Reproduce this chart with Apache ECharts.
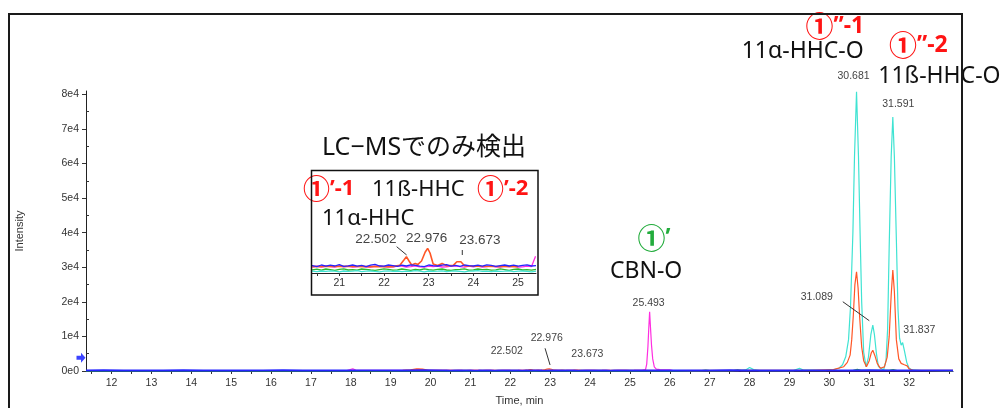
<!DOCTYPE html>
<html>
<head>
<meta charset="utf-8">
<script src="https://cdn.jsdelivr.net/npm/echarts@6/dist/echarts.min.js"></script>
<style>
  html, body { margin: 0; padding: 0; background: #fff; }
  #chart { width: 1005px; height: 408px; }
</style>
</head>
<body>
<div id="chart"></div>
<script>
// Extracted ion chromatograms: retention time (min) vs intensity (counts)

// axis ranges and tick labels
const XMIN = 11.36, XMAX = 33.1;
const INSET_XMIN = 20.39, INSET_XMAX = 25.40;
const YMAX = 81000, INSET_YMAX = 2400;
const timeTickLabels = [12,13,14,15,16,17,18,19,20,21,22,23,24,25,26,27,28,29,30,31,32];
const insetTickLabels = [21,22,23,24,25];
const intensityTicks = [0,10000,20000,30000,40000,50000,60000,70000,80000];
const thresholdLevel = 3800;

// sampling grid of the detailed baseline segment (20.4 - 25.4 min, 0.1 min step)
const fineTimes = Array.from({ length: 51 }, (_, i) => Math.round((20.4 + i * 0.1) * 10) / 10);

// baseline noise on the detailed segment
const blueFine = [185,160,200,170,195,175,210,165,180,200,170,190,160,195,215,175,170,200,185,165,195,175,205,190,170,160,200,185,175,195,210,170,190,165,200,185,175,195,170,205,190,165,185,200,175,195,170,190,205,175,185];
const magentaFine = [155,170,145,175,160,150,180,155,170,145,160,175,155,150,170,180,160,145,155,175,170,150,160,180,155,145,170,160,175,150,155,170,180,160,145,175,155,170,150,160,180,155,145,170,160,175,150,155,170,160];
const greenFine = [80,95,70,100,85,65,90,105,75,85,70,100,90,75,65,85,105,90,70,80,100,85,65,90,75,105,85,70,90,100,75,65,85,90,105,70,80,100,85,90,70,80,105,85,65,90,100,75,85,70,90];
const cyanFine = [45,35,50,40,55,45,30,50,40,45,60,35,45,50,40,30,45,55,40,50,35,45,40,60,45,30,50,40,45,55,35,45,50,40,30,45,50,60,40,45,35,50,40,45,55,35,45,50,40,30,45];

// [time, intensity] points of each trace outside the detailed segment
const bluePoints = [[11.36,200],[11.8,260],[12.3,180],[12.8,220],[13.3,170],[13.8,240],[14.3,190],[14.8,230],[15.3,180],[15.8,210],[16.3,250],[16.8,190],[17.3,220],[17.8,170],[18.3,230],[18.8,200],[19.3,180],[19.8,240],[20.3,200],
  [25.5,190],[26.0,230],[26.5,180],[27.0,210],[27.5,240],[28.0,190],[28.5,220],[29.0,170],[29.5,230],[30.0,200],[30.5,180],[31.0,240],[31.5,210],[32.0,190],[32.5,220],[33.1,200]];
const greenPoints = [[11.36,80],[20.3,80],[25.5,80],[26.8,100],[26.9,250],[27.0,100],[27.6,100],[27.7,300],[27.8,100],[29.9,100],[30.0,350],[30.1,150],[30.6,200],[30.7,450],[30.8,200],[31.5,200],[31.6,400],[31.7,150],[33.1,80]];
const magentaPoints = [[11.36,150],[17.9,150],[18.05,600],[18.15,160],[19.5,170],[19.7,450],[19.9,160],[20.3,160],
  [25.39,420],[25.42,2000],[25.45,7000],[25.47,12000],[25.493,17100],[25.515,12500],[25.54,7500],[25.57,3500],[25.61,1200],[25.66,550],[25.75,400],[25.9,350],[26.0,320],[26.08,150],[26.5,120],[33.1,120]];
const cyanPoints = [[11.36,50],[20.3,50],[25.5,50],[26.5,60],[27.7,80],[27.9,300],[28.0,1000],[28.1,400],[28.25,100],[29.1,100],[29.25,800],[29.35,250],[29.6,280],[29.9,220],[30.1,350],
  [30.24,800],[30.33,1800],[30.41,4100],[30.48,9000],[30.53,18600],[30.59,40000],[30.63,62000],[30.681,80800],[30.73,62000],[30.77,40000],[30.81,20000],[30.86,5500],[30.92,1200],
  [30.98,4000],[31.04,10500],[31.089,13300],[31.13,10500],[31.18,5000],[31.23,1300],[31.36,300],
  [31.42,3000],[31.46,12000],[31.5,36000],[31.55,62000],[31.591,73500],[31.63,62000],[31.68,38000],[31.72,18000],[31.76,9500],[31.8,7500],[31.837,8200],[31.88,6000],[31.94,2500],[32.0,800],[32.08,300],[32.3,150],[33.1,60]];
const orangePoints = [[11.36,150],[19.3,160],[19.5,350],[19.65,600],[19.8,550],[19.95,200],[20.4,160],[21.0,170],[21.6,160],
  [22.2,160],[22.35,190],[22.45,330],[22.502,408],[22.56,300],[22.62,200],[22.7,240],[22.76,215],[22.84,300],[22.92,520],[22.976,617],[23.03,500],[23.1,225],[23.2,190],[23.3,240],[23.4,180],[23.55,190],[23.63,280],[23.673,325],[23.72,280],[23.8,180],[24.0,170],
  [25.0,160],[26.0,150],[28.0,160],[29.5,160],[30.1,400],[30.36,1240],[30.45,2500],[30.52,4600],[30.56,9000],[30.6,16000],[30.64,25000],[30.681,28700],[30.72,24000],[30.76,15500],[30.81,7000],[30.86,3000],[30.93,1240],
  [31.0,3000],[31.05,5200],[31.089,6000],[31.14,4500],[31.2,2200],[31.28,780],[31.38,1200],[31.45,4000],[31.5,10000],[31.55,22000],[31.591,29200],[31.63,23000],[31.68,9000],[31.74,3500],[31.8,2200],[31.88,1800],[31.95,1500],[32.0,600],[32.1,200],[33.1,160]];

// labelled retention times: [trace, time]
const mainPeaks = [['orange',22.502],['orange',22.976],['orange',23.673],['magenta',25.493],['cyan',30.681],['cyan',31.089],['cyan',31.591],['cyan',31.837]];
const insetPeaks = [['orange',22.502],['orange',22.976],['orange',23.673]];

// label placement relative to the peak apex (px)
const mainLabelOffset = { '22.502': [-23.6,-18.9], '22.976': [-2.5,-30.6], '23.673': [10.3,-15.9], '25.493': [-1,-9.2],
  '30.681': [-3,-15.5], '31.089': [-56,-28.3], '31.591': [5.5,-12.5], '31.837': [16.7,-12.6] };
const insetLabelOffset = { '22.502': [-30.5,-17.7], '22.976': [-1,-10.3], '23.673': [21.2,-19.3] };
const mainLeaders = { '22.976': [-4.2,-20.6,0.8,-3.9], '31.089': [-30,-23.3,-3.5,-4.3] };
const insetLeaders = { '22.502': [-9.8,-10,0.2,-1.7], '23.673': [3.5,-10,3.5,-5] };

function mergeTrace(points, fine) {
  const fp = (fine || []).map((v, i) => [fineTimes[i], v]);
  if (!fp.length) return points.slice();
  const first = fp[0][0], last = fp[fp.length - 1][0];
  return points.filter(p => p[0] < first || p[0] > last).concat(fp).sort((a, b) => a[0] - b[0]);
}

const traces = {
  green:   { color: '#2db82d', data: mergeTrace(greenPoints, greenFine) },
  cyan:    { color: '#3fe3d2', data: mergeTrace(cyanPoints, cyanFine) },
  magenta: { color: '#ff2ee0', data: mergeTrace(magentaPoints, magentaFine) },
  orange:  { color: '#ff5626', data: mergeTrace(orangePoints, null) },
  blue:    { color: '#2424ff', data: mergeTrace(bluePoints, blueFine) }
};
const drawOrder = ['green', 'cyan', 'magenta', 'orange', 'blue'];

// the inset shows only the points inside its own time window
const inInset = d => d[0] >= INSET_XMIN - 0.2 && d[0] <= INSET_XMAX;

function apex(name, t) {
  const p = traces[name].data.find(d => Math.abs(d[0] - t) < 1e-9);
  return [t, p ? p[1] : 0];
}

function halfSteps(a, b) {
  const out = [];
  for (let v = a; v <= b + 1e-9; v += 0.5) out.push(Math.round(v * 10) / 10);
  return out;
}

const tickFont = { fontFamily: 'Liberation Sans, Arial, sans-serif', fontSize: 10.5, color: '#333' };

function markPointsFor(name, peaks, offsets, fontSize) {
  const items = peaks.filter(p => p[0] === name).map(p => {
    const c = apex(name, p[1]);
    return { name: p[1].toFixed(3), coord: c, label: { offset: offsets[p[1].toFixed(3)] } };
  });
  if (!items.length) return undefined;
  return {
    symbol: 'circle', symbolSize: 1, itemStyle: { color: 'rgba(0,0,0,0)' },
    label: { show: true, position: 'inside', formatter: p => p.name, color: '#444',
      fontFamily: 'Liberation Sans, Arial, sans-serif', fontSize: fontSize },
    data: items, animation: false
  };
}

const series = [];
drawOrder.forEach(name => {
  series.push({
    type: 'line', name: name, xAxisIndex: 0, yAxisIndex: 0, data: traces[name].data,
    showSymbol: false, symbol: 'none', animation: false,
    lineStyle: { color: traces[name].color, width: name === 'blue' ? 1.6 : 1.2 },
    markPoint: markPointsFor(name, mainPeaks, mainLabelOffset, 10.5)
  });
});
drawOrder.forEach(name => {
  series.push({
    type: 'line', name: name + '-inset', xAxisIndex: 1, yAxisIndex: 1, data: traces[name].data.filter(inInset),
    showSymbol: false, symbol: 'none', animation: false, clip: true,
    lineStyle: { color: traces[name].color, width: name === 'orange' ? 1.6 : 1.3 },
    markPoint: markPointsFor(name, insetPeaks, insetLabelOffset, 13.5)
  });
});
// threshold marker on the intensity axis
series.push({
  type: 'scatter', xAxisIndex: 0, yAxisIndex: 0, data: [[XMIN, thresholdLevel]], clip: false, z: 10,
  symbol: 'path://M0,3 L5,3 L5,0 L10,5 L5,10 L5,7 L0,7 Z', symbolSize: [9, 10], symbolOffset: [-5, 0],
  itemStyle: { color: '#0a14ff' }, animation: false, silent: true
});

const chart = echarts.init(document.getElementById('chart'), null, { renderer: 'canvas' });

chart.setOption({
  backgroundColor: '#fff',
  animation: false,
  textStyle: { fontFamily: 'Liberation Sans, Arial, sans-serif' },
  grid: [
    { left: 86, right: 52, top: 91, bottom: 37, containLabel: false, outerBoundsMode: 'none' },
    { left: 312, right: 469, top: 177, bottom: 135, containLabel: false, outerBoundsMode: 'none' }
  ],
  xAxis: [
    { type: 'value', gridIndex: 0, min: XMIN, max: XMAX,
      name: 'Time, min', nameLocation: 'middle', nameGap: 24,
      nameTextStyle: { fontSize: 11, color: '#333', fontFamily: 'Liberation Sans, Arial, sans-serif' },
      axisLine: { show: true, lineStyle: { color: '#1a1a70', width: 1.2 } },
      axisTick: { show: true, length: 3, customValues: halfSteps(11.5, 33), lineStyle: { color: '#333' } },
      axisLabel: Object.assign({ margin: 7, customValues: timeTickLabels }, tickFont),
      splitLine: { show: false } },
    { type: 'value', gridIndex: 1, min: INSET_XMIN, max: INSET_XMAX,
      axisLine: { show: true, lineStyle: { color: '#222', width: 1 } },
      axisTick: { show: true, length: 3, customValues: halfSteps(20.5, 25.0), lineStyle: { color: '#333' } },
      axisLabel: Object.assign({ margin: 5, customValues: insetTickLabels }, tickFont),
      splitLine: { show: false } }
  ],
  yAxis: [
    { type: 'value', gridIndex: 0, min: 0, max: YMAX, interval: 10000,
      name: 'Intensity', nameLocation: 'middle', nameGap: 61, nameRotate: 90,
      nameTextStyle: { fontSize: 11, color: '#333', fontFamily: 'Liberation Sans, Arial, sans-serif' },
      axisLine: { show: true, lineStyle: { color: '#222', width: 1 } },
      axisTick: { show: true, length: 4, lineStyle: { color: '#333' } },
      axisLabel: Object.assign({ margin: 7, formatter: v => v === 0 ? '0e0' : (v / 10000) + 'e4' }, tickFont),
      splitLine: { show: false } },
    { type: 'value', gridIndex: 1, min: 0, max: INSET_YMAX, show: false },
    { type: 'value', gridIndex: 0, min: 0, max: YMAX, position: 'left',
      axisLine: { show: false }, axisLabel: { show: false }, splitLine: { show: false },
      axisTick: { show: true, inside: true, length: 3, lineStyle: { color: '#333' },
        customValues: [5000,15000,25000,35000,45000,55000,65000,75000] } }
  ],
  series: series
});

// annotations and leader lines, placed after the scales exist
const JP = '"Noto Sans", "Noto Sans CJK JP", sans-serif';
const CJK = '"Noto Sans CJK JP", sans-serif';
function note(x, y, text, size, color) {
  return { type: 'text', x: x, y: y, z: 50,
    style: { text: text, font: size + 'px ' + JP, fill: color, textAlign: 'left', textVerticalAlign: 'middle', align: 'left', verticalAlign: 'middle' } };
}
function marker(x, y, suffix, size, color) {
  return { type: 'text', x: x, y: y, z: 50,
    style: { text: '{c|①}{b|' + suffix + '}', fill: color, textAlign: 'left', textVerticalAlign: 'middle', align: 'left', verticalAlign: 'middle',
      rich: {
        c: { fontFamily: CJK, fontSize: Math.round(size * 1.22), fontWeight: 'bold', fill: color, color: color },
        b: { fontFamily: JP, fontSize: size, fontWeight: 'bold', fill: color, color: color }
      } } };
}
function leader(gridIndex, name, t, off) {
  const p = chart.convertToPixel({ gridIndex: gridIndex }, apex(name, t));
  return { type: 'line', z: 40, shape: { x1: p[0] + off[0], y1: p[1] + off[1], x2: p[0] + off[2], y2: p[1] + off[3] },
    style: { stroke: '#333', lineWidth: 1 } };
}

const RED = '#ff1414', GREEN = '#22ac3c', INK = '#111';
const graphics = [
  // outer frame
  { type: 'rect', z: 100, shape: { x: 9, y: 14, width: 953, height: 430 }, style: { fill: 'none', stroke: '#1a1a1a', lineWidth: 2 } },
  // inset frame
  { type: 'rect', z: 60, shape: { x: 311.5, y: 170.5, width: 226.5, height: 124.5 }, style: { fill: 'none', stroke: '#111', lineWidth: 1.5 } },
  note(322, 148.3, 'LC−MSでのみ検出', 25, INK),
  marker(303, 188.3, '’-1', 22, RED),
  note(372, 190, '11ß-HHC', 22, INK),
  marker(477, 188.3, '’-2', 22, RED),
  note(322, 218.3, '11α-HHC', 22, INK),
  marker(637.5, 238.3, '’', 23, GREEN),
  note(610, 271.7, 'CBN-O', 23, INK),
  marker(805.5, 26.7, '”-1', 23, RED),
  note(741.7, 51.7, '11α-HHC-O', 23, INK),
  marker(889, 45, '”-2', 23, RED),
  note(878.3, 76.7, '11ß-HHC-O', 23, INK)
];
mainPeaks.forEach(p => {
  const k = p[1].toFixed(3);
  if (mainLeaders[k]) graphics.push(leader(0, p[0], p[1], mainLeaders[k]));
});
insetPeaks.forEach(p => {
  const k = p[1].toFixed(3);
  if (insetLeaders[k]) graphics.push(leader(1, p[0], p[1], insetLeaders[k]));
});
chart.setOption({ graphic: graphics });
</script>
</body>
</html>
